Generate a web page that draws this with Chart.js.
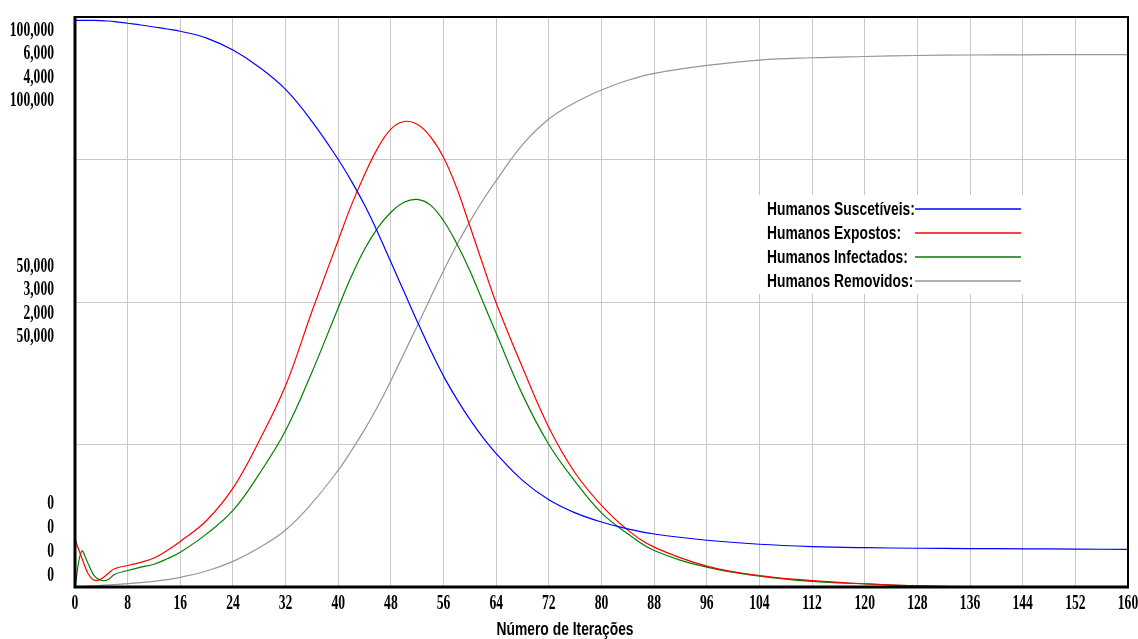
<!DOCTYPE html>
<html lang="pt">
<head>
<meta charset="utf-8">
<title>Humanos - Número de Iterações</title>
<script src="https://cdn.jsdelivr.net/npm/chart.js@4.4.1/dist/chart.umd.min.js"></script>
<style>
  html, body { margin: 0; padding: 0; background: #fff; }
  #wrap { width: 1138px; height: 639px; position: relative; }
</style>
</head>
<body>
<div id="wrap"><canvas id="humanosChart"></canvas></div>
<script>
// Iterações (eixo x)
const iteracoes = [0, 1, 2, 3, 4, 5, 6, 8, 10, 12, 14, 16, 20, 24, 28, 32, 36, 40, 42, 44, 46, 48, 50, 52, 54, 56,
    58, 60, 62, 64, 68, 72, 76, 80, 84, 88, 96, 104, 112, 120, 128, 136, 144, 152, 160];

// Valores
const suscetiveis = [99400, 99400, 99400, 99400, 99350, 99300, 99200, 98900, 98600, 98250, 97900, 97500,
    96300, 94200, 91200, 87300, 81700, 75000, 71200, 67000, 62200, 57000, 51800, 46600, 41600, 37000,
    33000, 29400, 26200, 23400, 18700, 15300, 13000, 11400, 10200, 9300, 8200, 7500, 7100, 6900, 6800,
    6750, 6700, 6650, 6600];
const expostos = [500, 314, 140, 70, 86, 139, 192, 226, 260, 305, 385, 480,
    700, 1040, 1540, 2120, 2900, 3650, 4020, 4340, 4620, 4820, 4900, 4870, 4740, 4520,
    4200, 3800, 3390, 2990, 2310, 1680, 1200, 860, 600, 420, 220, 120, 68, 34, 12,
    3, 1, 0, 0];
const infectados = [0, 251, 163, 74, 46, 51, 88, 116, 139, 160, 198, 244,
    373, 537, 794, 1098, 1507, 1960, 2180, 2370, 2520, 2630, 2700, 2720, 2680, 2570,
    2410, 2220, 2000, 1780, 1350, 1000, 740, 520, 373, 256, 139, 76, 39, 22, 8,
    2, 0, 0, 0];
const removidos = [0, 80, 150, 220, 290, 360, 430, 600, 780, 1000, 1300, 1700,
    2800, 4500, 6900, 10000, 14700, 20500, 23900, 27600, 31700, 36200, 41000, 45800, 50700, 55500,
    60000, 64100, 67900, 71300, 77600, 82100, 85000, 87200, 88900, 90100, 91500, 92450, 92850, 93070, 93250,
    93330, 93370, 93400, 93400];

const nomesSeries = ['Humanos Suscetíveis:', 'Humanos Expostos:', 'Humanos Infectados:', 'Humanos Removidos:'];
const escalasMax = [100000, 6000, 4000, 100000];
const coresSeries = ['rgb(0,0,255)', 'rgb(255,0,0)', 'rgb(0,128,0)', 'rgb(150,150,150)'];
const eixosIds = ['yS', 'yE', 'yI', 'yR'];
const tituloX = 'Número de Iterações';

const serifFont = 'bold 20px "Liberation Serif", "Times New Roman", serif';
const sansFont = 'bold 18px "Liberation Sans", Arial, sans-serif';

// Texto comprimido na horizontal (fonte estreita do original)
function drawNarrowText(ctx, text, x, y, font, scaleX, align) {
    ctx.save();
    ctx.font = font;
    ctx.textBaseline = 'middle';
    ctx.textAlign = 'left';
    const w = ctx.measureText(text).width * scaleX;
    let left = x;
    if (align === 'right') left = x - w;
    else if (align === 'center') left = x - w / 2;
    ctx.translate(left, y);
    ctx.scale(scaleX, 1);
    ctx.fillStyle = '#000';
    ctx.fillText(text, 0, 0);
    ctx.restore();
}

const textPlugin = {
    id: 'vensimText',
    afterDraw(chart) {
        const ctx = chart.ctx;
        const area = chart.chartArea;

        // moldura
        ctx.save();
        ctx.strokeStyle = '#000';
        ctx.lineWidth = 2;
        ctx.beginPath();
        ctx.moveTo(area.left, area.top);
        ctx.lineTo(area.right, area.top);
        ctx.lineTo(area.right, area.bottom);
        ctx.stroke();
        ctx.lineWidth = 3;
        ctx.beginPath();
        ctx.moveTo(area.left, area.top - 1);
        ctx.lineTo(area.left, area.bottom);
        ctx.lineTo(area.right + 1, area.bottom);
        ctx.stroke();
        ctx.restore();

        // rótulos do eixo y, um por série (max, meio, zero)
        eixosIds.forEach((id, i) => {
            const sc = chart.scales[id];
            const mid = (sc.min + sc.max) / 2;
            const yTop = sc.getPixelForValue(sc.max) + 13.5 + i * 23.5;
            const yMid = sc.getPixelForValue(mid) - 35.25 + i * 23.5;
            const yBot = sc.getPixelForValue(sc.min) - 11.5 - (3 - i) * 24;
            drawNarrowText(ctx, sc.max.toLocaleString('en-US'), 54, yTop, serifFont, 0.68, 'right');
            drawNarrowText(ctx, mid.toLocaleString('en-US'), 54, yMid, serifFont, 0.68, 'right');
            drawNarrowText(ctx, sc.min.toLocaleString('en-US'), 54, yBot, serifFont, 0.68, 'right');
        });

        // rótulos do eixo x
        const xs = chart.scales.x;
        xs.ticks.forEach(t => {
            drawNarrowText(ctx, String(t.value), xs.getPixelForValue(t.value), 604, serifFont, 0.68, 'center');
        });
        drawNarrowText(ctx, tituloX, 565, 630, sansFont, 0.77, 'center');

        // legenda dentro do gráfico
        ctx.save();
        ctx.fillStyle = '#fff';
        ctx.fillRect(755, 195, 272, 99);
        ctx.restore();
        nomesSeries.forEach((nome, i) => {
            const y = 209 + i * 24;
            drawNarrowText(ctx, nome, 767, y + 1, sansFont, 0.77, 'left');
            ctx.save();
            ctx.strokeStyle = coresSeries[i];
            ctx.lineWidth = 1.5;
            ctx.beginPath();
            ctx.moveTo(915, y);
            ctx.lineTo(1021, y);
            ctx.stroke();
            ctx.restore();
        });
    }
};

function buildDatasets() {
    const valores = [suscetiveis, expostos, infectados, removidos];
    return valores.map((serie, i) => ({
        label: nomesSeries[i],
        data: serie.map((v, k) => ({ x: iteracoes[k], y: v })),
        borderColor: coresSeries[i],
        borderWidth: 1.2,
        pointRadius: 0,
        fill: false,
        tension: 0.4,
        yAxisID: eixosIds[i]
    }));
}

function hiddenAxis(max) {
    return { type: 'linear', display: false, min: 0, max: max };
}

const ctx = document.getElementById('humanosChart').getContext('2d');
const humanosChart = new Chart(ctx, {
    type: 'line',
    data: { datasets: buildDatasets() },
    plugins: [textPlugin],
    options: {
        responsive: true,
        maintainAspectRatio: false,
        animation: false,
        layout: { padding: { left: 75, top: 17, right: 10, bottom: 52 } },
        plugins: { legend: { display: false }, tooltip: { enabled: false } },
        scales: {
            x: {
                type: 'linear', min: 0, max: 160,
                ticks: { display: false, stepSize: 8 },
                grid: { color: 'rgb(200,200,200)', drawTicks: false },
                border: { display: false }
            },
            yS: {
                type: 'linear', position: 'left', min: 0, max: escalasMax[0],
                ticks: { display: false, stepSize: escalasMax[0] / 4 },
                grid: { color: 'rgb(200,200,200)', drawTicks: false },
                border: { display: false }
            },
            yE: hiddenAxis(escalasMax[1]),
            yI: hiddenAxis(escalasMax[2]),
            yR: hiddenAxis(escalasMax[3])
        }
    }
});
</script>
</body>
</html>
